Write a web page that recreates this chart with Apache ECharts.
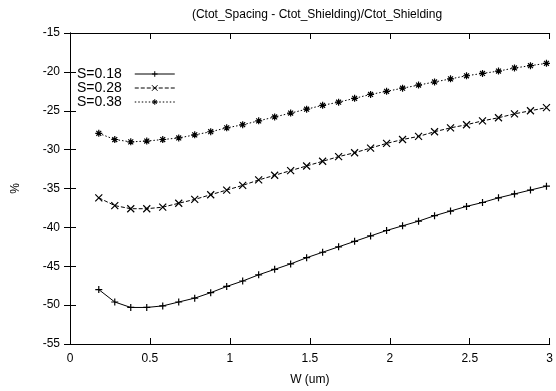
<!DOCTYPE html>
<html>
<head>
<meta charset="utf-8">
<script src="https://cdn.jsdelivr.net/npm/echarts@6/dist/echarts.min.js"></script>
<style>
  html, body { margin: 0; padding: 0; background: #fff; }
  #chart { width: 556px; height: 391px; }
</style>
</head>
<body>
<div id="chart"></div>
<script>
// W (um) sample positions
let wValues = [0.18, 0.28, 0.38, 0.48, 0.58, 0.68, 0.78, 0.88, 0.98, 1.08,
               1.18, 1.28, 1.38, 1.48, 1.58, 1.68, 1.78, 1.88, 1.98, 2.08,
               2.18, 2.28, 2.38, 2.48, 2.58, 2.68, 2.78, 2.88, 2.98];

// percent values
let s018 = [-48.0, -49.6, -50.3, -50.3, -50.1, -49.6, -49.1, -48.4, -47.6, -46.9,
            -46.1, -45.4, -44.7, -43.9, -43.2, -42.5, -41.8, -41.1, -40.4, -39.8,
            -39.2, -38.5, -37.9, -37.3, -36.8, -36.2, -35.7, -35.2, -34.7];
let s028 = [-36.2, -37.2, -37.6, -37.6, -37.4, -36.9, -36.4, -35.8, -35.2, -34.6,
            -33.9, -33.3, -32.7, -32.1, -31.5, -30.9, -30.4, -29.8, -29.2, -28.7,
            -28.3, -27.7, -27.2, -26.8, -26.3, -25.9, -25.4, -25.0, -24.6];
let s038 = [-27.9, -28.7, -29.0, -28.9, -28.7, -28.5, -28.1, -27.7, -27.2, -26.8,
            -26.3, -25.8, -25.3, -24.8, -24.3, -23.9, -23.4, -22.9, -22.5, -22.1,
            -21.7, -21.3, -20.9, -20.5, -20.2, -19.9, -19.5, -19.2, -18.9];

let seriesNames = ['S=0.18', 'S=0.28', 'S=0.38'];

let FONT = '"Liberation Sans", Arial, sans-serif';

// gnuplot-ish point shapes
let plusPath = 'path://M0,5L10,5M5,0L5,10';
let crossPath = 'path://M1,1L9,9M9,1L1,9';
let starPath = 'path://M0,5L10,5M5,0L5,10M1.5,1.5L8.5,8.5M8.5,1.5L1.5,8.5';

let pairs = function (ys) {
    return wValues.map(function (x, i) { return [x, ys[i]]; });
};

let makeSeries = function (name, ys, symbol, dash) {
    return {
        name: name,
        type: 'line',
        data: pairs(ys),
        symbol: symbol,
        symbolSize: 7,
        showAllSymbol: true,
        animation: false,
        lineStyle: { color: '#000', width: 1, type: dash },
        itemStyle: { color: 'none', borderColor: '#000', borderWidth: 1.2 }
    };
};

let chart = echarts.init(document.getElementById('chart'));

let axisCommon = {
    axisLine: { show: true, lineStyle: { color: '#000', width: 1 } },
    axisTick: { show: true, inside: true, length: 6, lineStyle: { color: '#000' } },
    splitLine: { show: false }
};

chart.setOption({
    backgroundColor: '#fff',
    textStyle: { fontFamily: FONT },
    title: {
        text: '(Ctot_Spacing - Ctot_Shielding)/Ctot_Shielding',
        left: 312,
        textAlign: 'center',
        top: 4,
        textStyle: { fontFamily: FONT, fontSize: 12, fontWeight: 'normal', color: '#000' }
    },
    legend: {
        data: seriesNames,
        orient: 'vertical',
        left: 72,
        top: 62,
        align: 'right',
        itemWidth: 40,
        itemHeight: 7,
        itemGap: 0,
        itemStyle: { color: 'none', borderColor: '#000', borderWidth: 1 },
        lineStyle: { width: 1, color: '#000' },
        textStyle: { fontFamily: FONT, fontSize: 14, lineHeight: 12, color: '#000', padding: [0, 8, 0, 0] }
    },
    grid: { left: 70, right: 6, top: 33, bottom: 47 },
    xAxis: [
        Object.assign({
            type: 'value',
            min: 0, max: 3, interval: 0.5,
            name: 'W (um)',
            nameLocation: 'middle',
            nameGap: 30,
            nameTextStyle: { fontFamily: FONT, fontSize: 12, color: '#000' },
            axisLabel: { color: '#000', fontSize: 12, fontFamily: FONT, margin: 9 }
        }, axisCommon),
        Object.assign({
            type: 'value', position: 'top',
            min: 0, max: 3, interval: 0.5,
            axisLabel: { show: false }
        }, axisCommon)
    ],
    yAxis: [
        Object.assign({
            type: 'value',
            min: -55, max: -15, interval: 5,
            name: '%',
            nameLocation: 'middle',
            nameGap: 48,
            nameRotate: 90,
            nameTextStyle: { fontFamily: FONT, fontSize: 12, color: '#000' },
            axisLabel: { color: '#000', fontSize: 12, fontFamily: FONT, margin: 10 }
        }, axisCommon),
        Object.assign({
            type: 'value', position: 'right',
            min: -55, max: -15, interval: 5,
            axisLabel: { show: false }
        }, axisCommon)
    ],
    series: [
        makeSeries(seriesNames[0], s018, plusPath, 'solid'),
        makeSeries(seriesNames[1], s028, crossPath, [4, 2]),
        makeSeries(seriesNames[2], s038, starPath, [1.5, 2])
    ]
});
</script>
</body>
</html>
